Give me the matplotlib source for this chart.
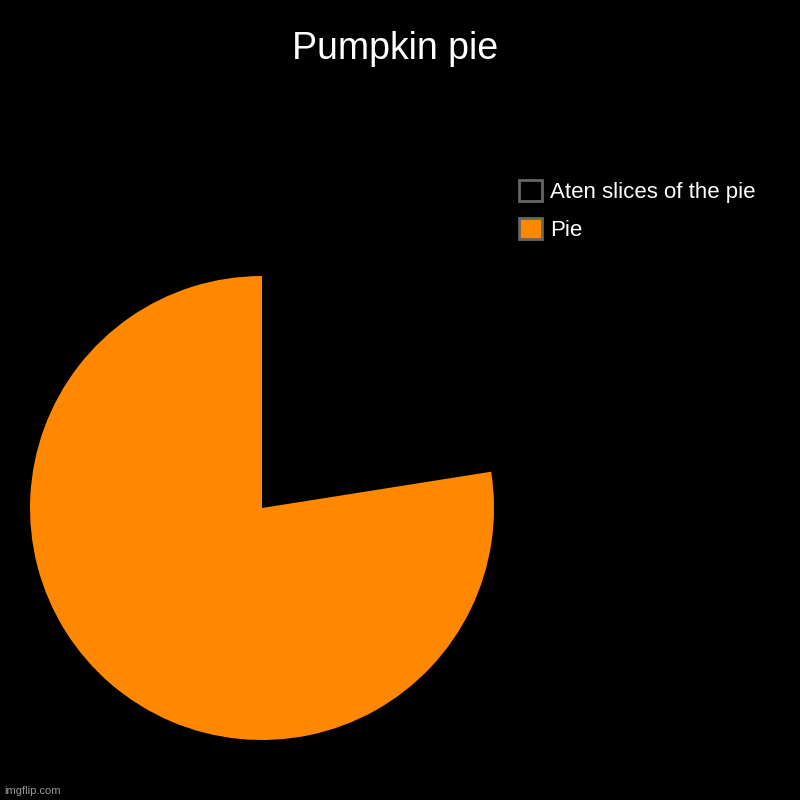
import matplotlib
matplotlib.use("Agg")
import matplotlib.pyplot as plt
from matplotlib.patches import Patch

plt.rcParams['font.family'] = ['Liberation Sans', 'DejaVu Sans']

title = "Pumpkin pie"
labels = ["Aten slices of the pie", "Pie"]
values = [22.5, 77.5]
colors = ["#000000", "#FF8800"]

fig = plt.figure(figsize=(8, 8), dpi=100, facecolor="black")
ax = fig.add_axes([262/800 - 232/800, 1 - 740/800, 464/800, 464/800])
ax.set_facecolor("black")
ax.pie(values, colors=colors, startangle=90, counterclock=False,
       radius=1, wedgeprops=dict(linewidth=0))
ax.set_xlim(-1, 1)
ax.set_ylim(-1, 1)
ax.set_aspect("equal")
ax.axis("off")

fig.text(395/800, 1 - 59/800, title, color="white", fontsize=27,
         ha="center", va="baseline")

handles = [Patch(facecolor=c, edgecolor="#666666", linewidth=2) for c in colors]
leg = fig.legend(handles, labels, loc="upper left",
                 bbox_to_anchor=(519/800, 1 - 180/800),
                 frameon=False, fontsize=16, labelcolor="white",
                 handlelength=1.05, handleheight=1.05, handletextpad=0.35,
                 labelspacing=0.7, borderpad=0, borderaxespad=0)

fig.text(4/800, 1 - 791/800, "imgflip.com", color="#999999", fontsize=8,
         ha="left", va="center")

fig.savefig("out.png", dpi=100, facecolor="black")
